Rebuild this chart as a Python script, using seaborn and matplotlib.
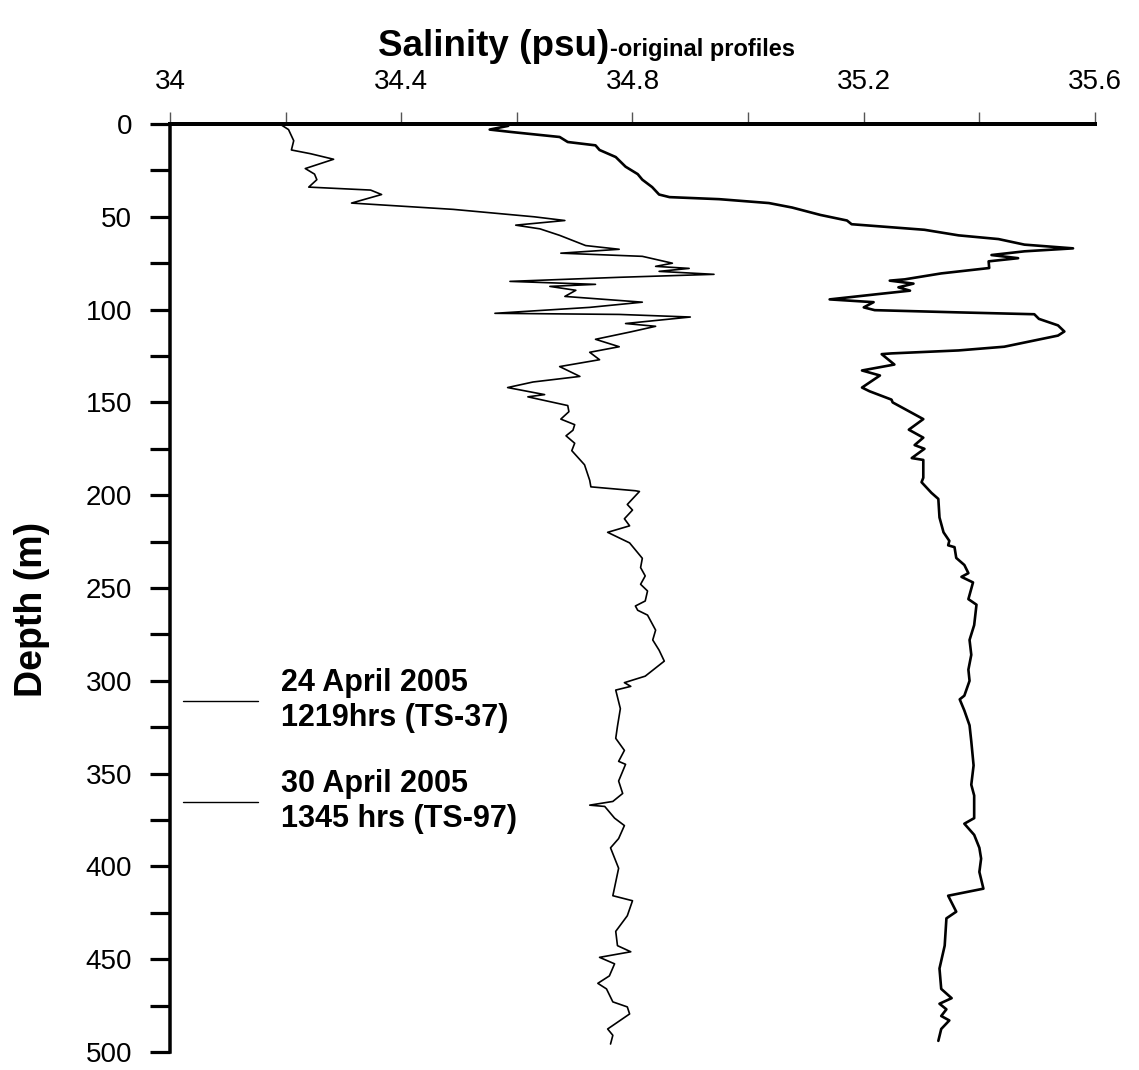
import matplotlib
matplotlib.use("Agg")
import matplotlib.pyplot as plt
import seaborn as sns
import pandas as pd
from matplotlib.ticker import MultipleLocator, FixedLocator

# ---- CTD salinity profiles (depth in m, salinity in psu) ----
# 24 April 2005, 1219 hrs (TS-37)
ts37_depth = [1, 3, 4.3, 7, 9.7, 11.5, 14, 17.8, 23, 27, 30, 34, 38, 39.4, 40.5,
              42.6, 45, 49, 52, 54, 57, 60, 62, 65, 67, 68.6, 70.6, 72.3, 74,
              77.6, 80.5, 83.7, 84.4, 86, 88, 89.8, 91.6, 94.5, 96, 98.8, 100.3,
              101.5, 102.5, 105, 108.5, 111.8, 114, 120, 122, 123.6, 124, 129.6,
              132.8, 135.5, 142, 144, 148.5, 150, 159, 164.7, 169, 173, 175, 180,
              181, 190.6, 193, 198.7, 202, 212, 220, 224.6, 227, 228, 233.8,
              237.6, 242, 244, 247, 256, 259, 270, 278, 286, 294, 300, 308, 310,
              316, 324, 332.6, 345.6, 356, 361.8, 374, 377, 383, 390, 395.8, 403,
              412, 415.8, 424.4, 428, 442.7, 455, 466, 471, 474, 477, 480.6, 483,
              487.6, 494]
ts37_sal = [34.585, 34.553, 34.59, 34.674, 34.688, 34.736, 34.743, 34.771, 34.788,
            34.809, 34.817, 34.834, 34.846, 34.864, 34.95, 35.036, 35.076, 35.125,
            35.171, 35.179, 35.305, 35.364, 35.433, 35.478, 35.562, 35.478, 35.421,
            35.467, 35.416, 35.417, 35.334, 35.271, 35.245, 35.286, 35.26, 35.28,
            35.226, 35.141, 35.217, 35.20, 35.219, 35.364, 35.495, 35.503, 35.536,
            35.547, 35.536, 35.443, 35.364, 35.248, 35.231, 35.253, 35.197, 35.228,
            35.197, 35.21, 35.248, 35.25, 35.303, 35.278, 35.303, 35.288, 35.305,
            35.283, 35.303, 35.303, 35.30, 35.317, 35.329, 35.331, 35.338, 35.348,
            35.346, 35.357, 35.36, 35.374, 35.381, 35.369, 35.389, 35.381, 35.395,
            35.391, 35.383, 35.386, 35.381, 35.383, 35.374, 35.366, 35.374, 35.383,
            35.386, 35.39, 35.386, 35.391, 35.391, 35.374, 35.391, 35.40, 35.403,
            35.40, 35.407, 35.346, 35.36, 35.343, 35.34, 35.331, 35.334, 35.352,
            35.331, 35.343, 35.334, 35.348, 35.334, 35.329]

# 30 April 2005, 1345 hrs (TS-97)
ts97_depth = [0, 3, 9, 14, 16, 19, 24, 27, 30, 34, 35.6, 38, 42.6, 46, 50, 52,
              54.5, 56.5, 60, 65.5, 67.5, 69.6, 71.3, 75, 76.7, 77.8, 79.4, 81,
              82.6, 84.8, 86.4, 87.5, 89.6, 92.9, 96, 98.8, 102, 102.6, 104, 107.5,
              109, 112, 116, 120, 123, 127, 130.7, 136, 139, 142, 145.8, 147,
              151.7, 155, 159, 162, 165, 168, 172, 176, 183.6, 192, 195.5, 197.6,
              198, 205, 208, 212.7, 216.5, 220, 225.7, 234, 239, 243.5, 248, 251.6,
              257, 259.7, 262, 264.6, 272.7, 278, 283.5, 289.4, 297.5, 301, 303,
              305, 315, 324.5, 331, 337.5, 343.4, 345, 354, 360.7, 365, 367, 367.7,
              374, 378, 385, 390, 401, 415.8, 418.5, 426.6, 435, 442.7, 446, 449,
              452.5, 459, 463, 466, 473, 475.7, 479.5, 487.6, 491, 495.7]
ts97_sal = [34.19, 34.205, 34.214, 34.21, 34.243, 34.283, 34.234, 34.25, 34.254,
            34.24, 34.347, 34.366, 34.314, 34.49, 34.63, 34.683, 34.598, 34.64,
            34.674, 34.719, 34.777, 34.676, 34.817, 34.869, 34.84, 34.898, 34.846,
            34.941, 34.777, 34.588, 34.736, 34.657, 34.702, 34.683, 34.817, 34.726,
            34.562, 34.777, 34.90, 34.788, 34.84, 34.797, 34.736, 34.777, 34.726,
            34.743, 34.674, 34.709, 34.628, 34.584, 34.648, 34.619, 34.688, 34.69,
            34.676, 34.70, 34.697, 34.685, 34.70, 34.695, 34.717, 34.726, 34.728,
            34.805, 34.812, 34.791, 34.80, 34.786, 34.795, 34.757, 34.795, 34.817,
            34.814, 34.822, 34.814, 34.826, 34.822, 34.805, 34.809, 34.826, 34.84,
            34.835, 34.846, 34.855, 34.822, 34.786, 34.797, 34.771, 34.779, 34.774,
            34.771, 34.786, 34.776, 34.788, 34.776, 34.783, 34.766, 34.726, 34.752,
            34.769, 34.786, 34.776, 34.762, 34.776, 34.766, 34.80, 34.791, 34.771,
            34.774, 34.797, 34.743, 34.769, 34.76, 34.74, 34.755, 34.766, 34.791,
            34.795, 34.757, 34.766, 34.762]

label_ts37 = "24 April 2005\n1219hrs (TS-37)"
label_ts97 = "30 April 2005\n1345 hrs (TS-97)"

x_major = [34, 34.4, 34.8, 35.2, 35.6]
x_major_labels = ["34", "34.4", "34.8", "35.2", "35.6"]
y_major = [0, 50, 100, 150, 200, 250, 300, 350, 400, 450, 500]

df37 = pd.DataFrame({"Depth": ts37_depth, "Salinity": ts37_sal})
df97 = pd.DataFrame({"Depth": ts97_depth, "Salinity": ts97_sal})

sns.set_theme(style="white")
plt.rcParams["font.family"] = ["Liberation Sans", "DejaVu Sans"]
plt.rcParams["text.color"] = "black"
plt.rcParams["axes.labelcolor"] = "black"

W, H = 1139, 1070
PT = 72 / 100  # points per pixel at 100 dpi
fig = plt.figure(figsize=(W / 100, H / 100), dpi=100)
ax = fig.add_axes([170 / W, 1 - 1052 / H, (1095 - 170) / W, (1052 - 124) / H])

sns.lineplot(data=df37, x="Salinity", y="Depth", orient="y", sort=False,
             estimator=None, color="black", linewidth=1.9, ax=ax, label=label_ts37)
sns.lineplot(data=df97, x="Salinity", y="Depth", orient="y", sort=False,
             estimator=None, color="black", linewidth=1.2, ax=ax, label=label_ts97)

ax.set_xlim(34, 35.6)
ax.set_ylim(500, 0)
ax.set_xlabel("")
ax.set_ylabel("")

# x axis on top, y axis on the left only
ax.xaxis.tick_top()
for side in ("right", "bottom"):
    ax.spines[side].set_visible(False)
ax.spines["top"].set_linewidth(4 * PT)
ax.spines["left"].set_linewidth(3.5 * PT)
ax.spines["top"].set_color("black")
ax.spines["left"].set_color("black")

ax.xaxis.set_major_locator(FixedLocator(x_major))
ax.set_xticklabels(x_major_labels)
ax.xaxis.set_minor_locator(MultipleLocator(0.2))
ax.tick_params(axis="x", which="both", top=True, bottom=False, direction="out",
               length=12 * PT, width=1.0, color="#555555", pad=17 * PT,
               labelsize=20, labelcolor="black")

ax.yaxis.set_major_locator(FixedLocator(y_major))
ax.yaxis.set_minor_locator(MultipleLocator(25))
ax.tick_params(axis="y", which="both", left=True, direction="out",
               length=20 * PT, width=3.2 * PT, color="black", pad=18 * PT,
               labelsize=20, labelcolor="black")

# legend to the left of the profiles
leg = ax.legend(loc="upper left", bbox_to_anchor=(183 / W, 1 - 668 / H),
                bbox_transform=fig.transFigure, frameon=False, borderpad=0,
                borderaxespad=0, handlelength=2.45, handletextpad=0.75,
                labelspacing=1.2, prop={"weight": "bold", "size": 22})
for t in leg.get_texts():
    t.set_linespacing(1.2)
    t.set_color("black")
for ln in leg.get_lines():
    ln.set_linewidth(1.0)

# title made of two parts of different size
fig.canvas.draw()
renderer = fig.canvas.get_renderer()
t1 = fig.text(378 / W, 1 - 56 / H, "Salinity (psu)", ha="left", va="baseline",
              fontsize=26.5, fontweight="bold", color="black")
bb = t1.get_window_extent(renderer=renderer)
fig.text(bb.x1 / W + 1 / W, 1 - 56 / H, "-original profiles", ha="left",
         va="baseline", fontsize=17, fontweight="bold", color="black")

fig.text(32 / W, 1 - 609 / H, "Depth (m)", rotation=90, ha="center",
         va="center", fontsize=27, fontweight="bold", color="black")

fig.savefig("out.png", dpi=100, facecolor="white")
